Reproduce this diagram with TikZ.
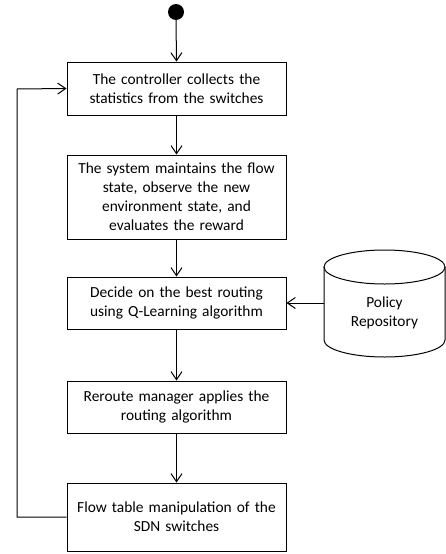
\documentclass[tikz,border=0pt]{standalone}
\usepackage{fontspec}
\setmainfont{Carlito}
\usetikzlibrary{arrows.meta}
\tikzset{
  stepbox/.style={draw, line width=1pt, align=center, inner sep=2pt,
    minimum width=219pt, text width=210pt, font=\fontsize{15.4}{19}\selectfont},
  flow/.style={draw, line width=1pt, -{Straight Barb[length=8pt,width=11pt,line width=1pt]}},
}
\begin{document}
\begin{tikzpicture}[x=1pt,y=-1pt]
  \useasboundingbox (0,0) rectangle (446,554);

  % initial state
  \fill (176,12) circle (8pt);
  \coordinate (start) at (176,20);

  % process steps
  \node[stepbox, minimum height=53pt] (collect) at (176.5,88.5)
    {The controller collects the\\statistics from the switches};
  \node[stepbox, minimum height=84pt] (observe) at (176.5,197)
    {The system maintains the flow\\state, observe the new\\environment state, and\\evaluates the reward};
  \node[stepbox, minimum height=52pt] (decide) at (176.5,303)
    {Decide on the best routing\\using Q-Learning algorithm};
  \node[stepbox, minimum height=52pt] (reroute) at (176.5,407)
    {Reroute manager applies the\\routing algorithm};
  \node[stepbox, minimum height=68pt] (table) at (176.5,517)
    {Flow table manipulation of the\\SDN switches};

  % policy repository (cylinder)
  \draw[line width=1pt] (384.5,267) ellipse [x radius=60.5pt, y radius=17pt];
  \draw[line width=1pt] (324,267) -- (324,340)
    arc[start angle=180, end angle=360, x radius=60.5pt, y radius=17pt]
    -- (445,267);
  \node[align=center, font=\fontsize{15.4}{19}\selectfont] (repo) at (384.5,313)
    {Policy\\Repository};
  \coordinate (repoin) at (324,303);

  % connectors
  \draw[flow] (start) -- (collect.north);
  \draw[flow] (collect) -- (observe);
  \draw[flow] (observe) -- (decide);
  \draw[flow] (decide) -- (reroute);
  \draw[flow] (reroute) -- (table);
  \draw[flow] (repoin) -- (decide.east);
  \coordinate (loopbot) at (17,517);
  \coordinate (looptop) at (17,89);
  \draw[flow] (table.west) -- (loopbot) -- (looptop) -- (collect.west);
\end{tikzpicture}
\end{document}
